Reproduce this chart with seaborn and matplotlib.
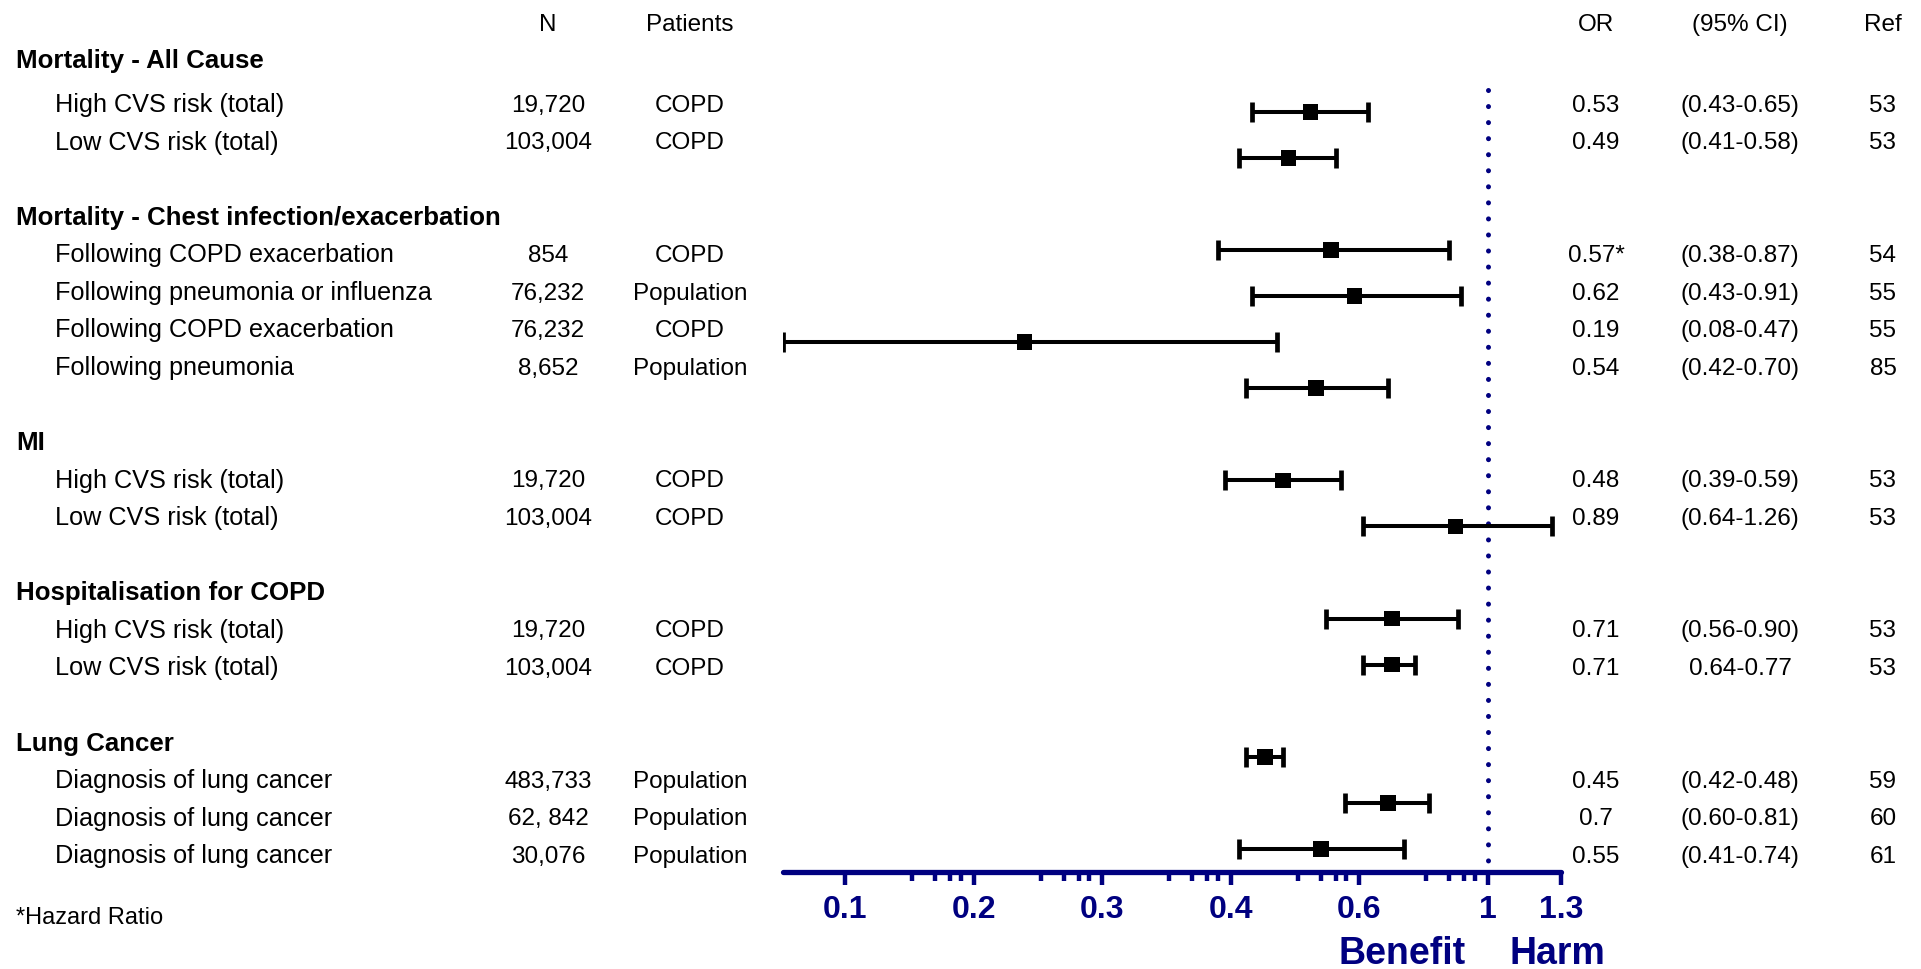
import matplotlib
matplotlib.use("Agg")
import matplotlib.pyplot as plt
from matplotlib.ticker import NullFormatter
import seaborn as sns
import numpy as np
import pandas as pd

# ---------------- data ----------------
groups = ["Mortality - All Cause",
          "Mortality - Chest infection/exacerbation",
          "MI",
          "Hospitalisation for COPD",
          "Lung Cancer"]
row_group = [0, 0, 1, 1, 1, 1, 2, 2, 3, 3, 4, 4, 4]
labels = ["High CVS risk (total)", "Low CVS risk (total)",
          "Following COPD exacerbation", "Following pneumonia or influenza",
          "Following COPD exacerbation", "Following pneumonia",
          "High CVS risk (total)", "Low CVS risk (total)",
          "High CVS risk (total)", "Low CVS risk (total)",
          "Diagnosis of lung cancer", "Diagnosis of lung cancer",
          "Diagnosis of lung cancer"]
n_vals = ["19,720", "103,004", "854", "76,232", "76,232", "8,652",
          "19,720", "103,004", "19,720", "103,004",
          "483,733", "62, 842", "30,076"]
patients = ["COPD", "COPD", "COPD", "Population", "COPD", "Population",
            "COPD", "COPD", "COPD", "COPD",
            "Population", "Population", "Population"]
or_vals = [0.53, 0.49, 0.57, 0.62, 0.19, 0.54, 0.48, 0.89, 0.71, 0.71,
           0.45, 0.70, 0.55]
ci_lo = [0.43, 0.41, 0.38, 0.43, 0.08, 0.42, 0.39, 0.64, 0.56, 0.64,
         0.42, 0.60, 0.41]
ci_hi = [0.65, 0.58, 0.87, 0.91, 0.47, 0.70, 0.59, 1.26, 0.90, 0.77,
         0.48, 0.81, 0.74]
or_labels = ["0.53", "0.49", "0.57*", "0.62", "0.19", "0.54", "0.48",
             "0.89", "0.71", "0.71", "0.45", "0.7", "0.55"]
ci_labels = ["(0.43-0.65)", "(0.41-0.58)", "(0.38-0.87)", "(0.43-0.91)",
             "(0.08-0.47)", "(0.42-0.70)", "(0.39-0.59)", "(0.64-1.26)",
             "(0.56-0.90)", "0.64-0.77", "(0.42-0.48)", "(0.60-0.81)",
             "(0.41-0.74)"]
refs = ["53", "53", "54", "55", "55", "85", "53", "53", "53", "53",
        "59", "60", "61"]
header = ["N", "Patients", "OR", "(95% CI)", "Ref"]
tick_labels = ["0.1", "0.2", "0.3", "0.4", "0.6", "1", "1.3"]
footnote = "*Hazard Ratio"
side_labels = ["Benefit", "Harm"]

# ---------------- style ----------------
sns.set_theme(style="white")
plt.rcParams["font.family"] = ["Liberation Sans", "DejaVu Sans"]
NAVY = "#000080"

W, H = 1921, 970
fig = plt.figure(figsize=(W / 100, H / 100), dpi=100)
fig.patch.set_facecolor("white")

# text overlay in pixel coordinates
axt = fig.add_axes([0, 0, 1, 1])
axt.set_xlim(0, W)
axt.set_ylim(H, 0)
axt.axis("off")

FS = 17.5
FS_LAB = 18.2
FS_GRP = 18.6


def put(x, yc, s, size=FS, ha="left", weight="normal", color="black"):
    axt.text(x, yc + 0.358 * size * 100 / 72, s, fontsize=size, ha=ha,
             va="baseline", fontweight=weight, color=color)


col_x = [548, 690, 1596, 1740, 1883]
for x, h in zip(col_x, header):
    put(x, 22, h, ha="center")


def text_y(r):
    return 65.5 + 37.55 * r


# build rows (text grid and plot slots)
slots = []
r = 0
slot = 0
prev_g = None
for i, g in enumerate(row_group):
    if g != prev_g:
        if prev_g is not None:
            r += 1      # blank row
            slot += 1   # gap in plot
        yh = text_y(r) if g > 0 else 59
        put(16, yh, groups[g], size=FS_GRP, weight="bold")
        r += 1
        prev_g = g
    slots.append(slot)
    y = text_y(r)
    put(55, y, labels[i], size=FS_LAB)
    put(col_x[0], y, n_vals[i], ha="center")
    put(col_x[1], y, patients[i], ha="center")
    put(col_x[2], y, or_labels[i], ha="center")
    put(col_x[3], y, ci_labels[i], ha="center")
    put(col_x[4], y, refs[i], ha="center")
    r += 1
    slot += 1

put(16, 916, footnote, size=17)
put(1402, 951, side_labels[0], size=27, ha="center", weight="bold", color=NAVY)
put(1557, 951, side_labels[1], size=27, ha="center", weight="bold", color=NAVY)

# ---------------- forest plot ----------------
x0, x1 = 783, 1561
top, bot = 89.7, 873
ax = fig.add_axes([x0 / W, (H - bot) / H, (x1 - x0) / W, (bot - top) / H])
ax.patch.set_alpha(0)

df = pd.DataFrame({"or": or_vals, "lo": ci_lo, "hi": ci_hi, "slot": slots})
ax.set_xscale("log")
ymin_slot, ymax_slot = -0.5, max(slots) + 0.5
# reference line at OR = 1 (dotted, drawn from the top down)
ax.plot([1, 1], [ymin_slot + 0.02, ymax_slot], color=NAVY, lw=3.6,
        linestyle=(0, (0.01, 3.2)), dash_capstyle="round", zorder=1,
        clip_on=False)
ax.errorbar(df["or"], df["slot"],
            xerr=[df["or"] - df["lo"], df["hi"] - df["or"]],
            fmt="none", ecolor="black", elinewidth=2.9, capsize=7.2,
            capthick=3.4, zorder=2)
sns.scatterplot(data=df, x="or", y="slot", marker="s", s=125,
                color="black", edgecolor="none", ax=ax, zorder=4,
                legend=False)

ax.set_xlim(0.08, 1.3)
ax.set_ylim(ymax_slot, ymin_slot)

# axis ticks (labels evenly spaced on the log axis as in the original)
n_seg = len(tick_labels) - 2
major_pos = [10 ** (-1 + 0.2 * k) for k in range(n_seg + 1)] + [1.3]
minor_fracs = [0.52, 0.70, 0.815, 0.90]
minor_pos = [10 ** (-1 + 0.2 * (k + f)) for k in range(n_seg) for f in minor_fracs]
ax.set_xticks(major_pos)
ax.set_xticklabels(tick_labels)
ax.set_xticks(minor_pos, minor=True)
ax.xaxis.set_minor_formatter(NullFormatter())
ax.tick_params(axis="x", which="major", bottom=True, direction="out",
               length=9, width=3.2, color=NAVY, labelcolor=NAVY,
               labelsize=23, pad=7)
ax.tick_params(axis="x", which="minor", bottom=True, direction="out",
               length=6.5, width=3.2, color=NAVY)
for t in ax.get_xticklabels():
    t.set_fontweight("bold")
ax.tick_params(axis="y", left=False, labelleft=False)
ax.set_xlabel("")
ax.set_ylabel("")
for s in ["top", "left", "right"]:
    ax.spines[s].set_visible(False)
ax.spines["bottom"].set_color(NAVY)
ax.spines["bottom"].set_linewidth(3.8)
ax.spines["bottom"].set_capstyle("round")

fig.savefig("out.png", dpi=100, facecolor="white")
